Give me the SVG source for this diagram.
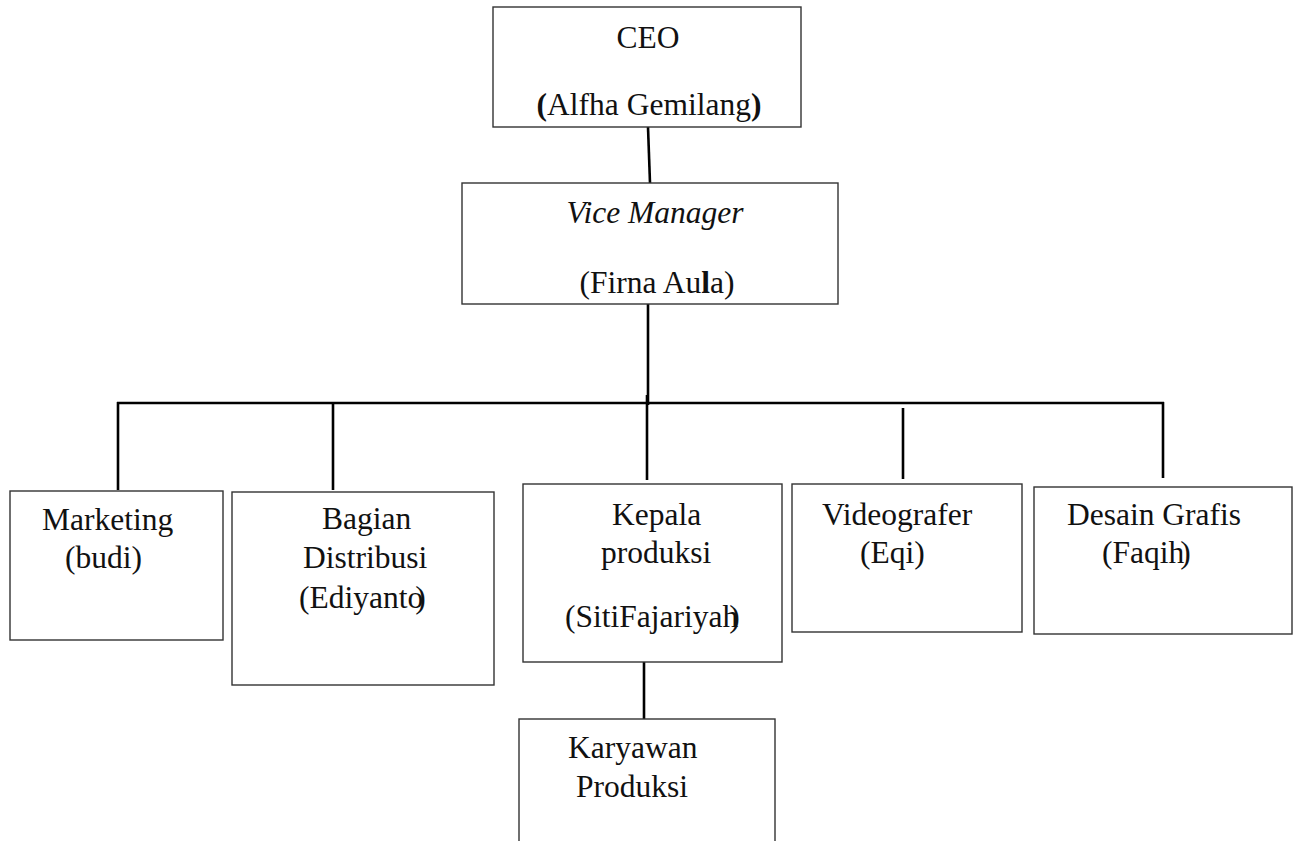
<svg xmlns="http://www.w3.org/2000/svg" width="1298" height="841" viewBox="0 0 1298 841">
<style>
  .box { fill: #ffffff; stroke: #333333; stroke-width: 1.4; }
  .t { font-family: "Liberation Serif", "Times New Roman", serif; font-size: 31.5px; fill: #111111; }
  .c { text-anchor: middle; }
  .conn line { stroke: #000000; stroke-width: 2.6; stroke-linecap: butt; }
</style>
<rect x="0" y="0" width="1298" height="841" fill="#ffffff"/>

<g id="connectors" class="conn">
  <line x1="648" y1="127" x2="650" y2="183"/>
  <line x1="648" y1="304" x2="648" y2="405"/>
  <line x1="117" y1="403" x2="1164" y2="403"/>
  <line x1="118" y1="402" x2="118" y2="490"/>
  <line x1="333" y1="403" x2="333" y2="490"/>
  <line x1="647" y1="395" x2="647" y2="480"/>
  <line x1="903" y1="408" x2="903" y2="479"/>
  <line x1="1163" y1="402" x2="1163" y2="478"/>
  <line x1="644" y1="637" x2="644" y2="722"/>
</g>

<g id="ceo">
  <rect class="box" x="493" y="7" width="308" height="120"/>
  <text class="t c" x="648" y="48">CEO</text>
  <text class="t c" x="649" y="115"><tspan font-weight="bold">(</tspan>Alfha Gemilang<tspan font-weight="bold">)</tspan></text>
</g>

<g id="vice-manager">
  <rect class="box" x="462" y="183" width="376" height="121"/>
  <text class="t c" x="655" y="223" font-style="italic">Vice Manager</text>
  <text class="t c" x="657" y="293">(Firna Au<tspan font-weight="bold">l</tspan>a)</text>
</g>

<g id="marketing">
  <rect class="box" x="10" y="491" width="213" height="149"/>
  <text class="t" x="42" y="530">Marketing</text>
  <text class="t" x="65" y="568">(budi)</text>
</g>

<g id="bagian-distribusi">
  <rect class="box" x="232" y="492" width="262" height="193"/>
  <text class="t" x="322" y="529">Bagian</text>
  <text class="t" x="303" y="568">Distribusi</text>
  <text class="t" x="299" y="608">(Ediyanto<tspan dx="-8">)</tspan></text>
</g>

<g id="kepala-produksi">
  <rect class="box" x="523" y="484" width="259" height="178"/>
  <text class="t" x="612" y="525">Kepala</text>
  <text class="t" x="601" y="563">produksi</text>
  <text class="t" x="565" y="627">(SitiFajariyah<tspan dx="-9">)</tspan></text>
</g>

<g id="videografer">
  <rect class="box" x="792" y="484" width="230" height="148"/>
  <text class="t" x="822" y="525">Videografer</text>
  <text class="t" x="860" y="563">(Eqi)</text>
</g>

<g id="desain-grafis">
  <rect class="box" x="1034" y="487" width="258" height="147"/>
  <text class="t" x="1067" y="525">Desain Grafis</text>
  <text class="t" x="1102" y="563">(Faqih<tspan dx="-4">)</tspan></text>
</g>

<g id="karyawan-produksi">
  <rect class="box" x="519" y="719" width="256" height="150"/>
  <text class="t" x="568" y="758">Karyawan</text>
  <text class="t" x="576" y="797">Produksi</text>
</g>
</svg>
